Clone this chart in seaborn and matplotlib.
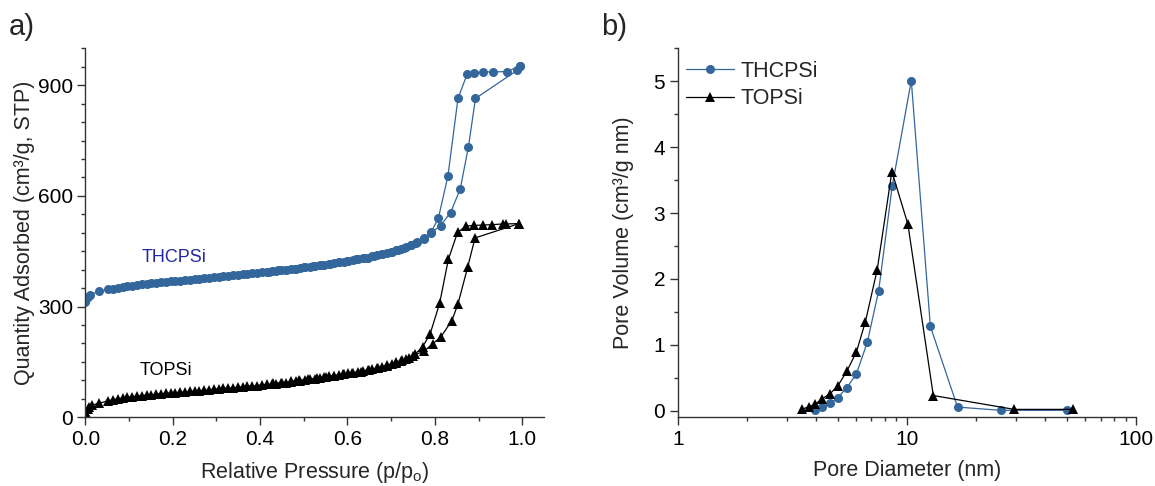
import matplotlib
matplotlib.use("Agg")
import matplotlib.pyplot as plt
import matplotlib.ticker as mticker
import seaborn as sns

# a) N2 isotherms
thc_ads_p = [0.000, 0.002, 0.005, 0.010, 0.031, 0.052, 0.063, 0.074, 0.085, 0.096,
             0.107, 0.118, 0.129, 0.140, 0.151, 0.162, 0.173, 0.184, 0.195, 0.206,
             0.217, 0.228, 0.239, 0.250, 0.261, 0.272, 0.283, 0.294, 0.305, 0.316,
             0.327, 0.338, 0.349, 0.360, 0.371, 0.382, 0.393, 0.404, 0.415, 0.426,
             0.437, 0.448, 0.459, 0.470, 0.481, 0.492, 0.503, 0.514, 0.525, 0.536,
             0.547, 0.558, 0.569, 0.580, 0.591, 0.602, 0.613, 0.624, 0.635, 0.646,
             0.657, 0.668, 0.679, 0.690, 0.701, 0.712, 0.723, 0.734, 0.745, 0.756,
             0.776, 0.791, 0.813, 0.836, 0.858, 0.877, 0.893, 0.988, 0.996]
thc_ads_v = [312, 320, 326, 332, 341, 347, 349, 351, 353, 355,
             357, 358, 360, 361, 363, 364, 366, 367, 368, 369,
             370, 372, 373, 374, 375, 377, 378, 379, 381, 382,
             383, 385, 386, 387, 389, 390, 392, 393, 394, 396,
             397, 399, 400, 402, 403, 405, 407, 408, 410, 412,
             414, 416, 418, 420, 422, 424, 426, 428, 431, 433,
             436, 439, 442, 445, 449, 453, 457, 461, 466, 471,
             484, 500, 519, 555, 618, 733, 864, 940, 952]
thc_des_p = [0.996, 0.965, 0.933, 0.911, 0.890, 0.874, 0.853, 0.830, 0.808, 0.791,
             0.775, 0.760, 0.745, 0.730, 0.715, 0.700, 0.680, 0.660, 0.640, 0.620,
             0.600, 0.580, 0.560, 0.540, 0.520, 0.500, 0.480, 0.460, 0.440, 0.420]
thc_des_v = [952, 937, 936, 936, 934, 930, 864, 654, 539, 501,
             486, 475, 467, 460, 454, 448, 442, 437, 432, 428,
             424, 420, 416, 413, 409, 406, 403, 400, 398, 395]

top_ads_p = [0.000, 0.002, 0.005, 0.009, 0.015, 0.032, 0.052, 0.063, 0.074, 0.085,
             0.096, 0.107, 0.118, 0.129, 0.140, 0.151, 0.162, 0.173, 0.184, 0.195,
             0.206, 0.217, 0.228, 0.239, 0.250, 0.261, 0.272, 0.283, 0.294, 0.305,
             0.316, 0.327, 0.338, 0.349, 0.360, 0.371, 0.382, 0.393, 0.404, 0.415,
             0.426, 0.437, 0.448, 0.459, 0.470, 0.481, 0.492, 0.503, 0.514, 0.525,
             0.536, 0.547, 0.558, 0.569, 0.580, 0.591, 0.602, 0.613, 0.624, 0.635,
             0.646, 0.657, 0.668, 0.679, 0.690, 0.701, 0.712, 0.723, 0.734, 0.749,
             0.776, 0.795, 0.814, 0.839, 0.853, 0.875, 0.892, 0.993]
top_ads_v = [2, 12, 22, 29, 33, 38, 45, 48, 50, 52,
             54, 56, 57, 59, 60, 61, 63, 64, 65, 66,
             67, 68, 69, 70, 71, 72, 73, 75, 76, 77,
             78, 79, 80, 81, 83, 84, 85, 86, 88, 89,
             90, 91, 93, 94, 96, 98, 99, 101, 103, 105,
             107, 109, 111, 113, 115, 117, 119, 121, 123, 126,
             128, 131, 134, 137, 140, 144, 148, 153, 158, 166,
             180, 199, 218, 262, 307, 406, 486, 525]
top_des_p = [0.993, 0.962, 0.955, 0.932, 0.910, 0.890, 0.871, 0.852, 0.831, 0.811,
             0.789, 0.772, 0.755, 0.740, 0.725, 0.710, 0.690, 0.670, 0.650, 0.630,
             0.610, 0.590, 0.570, 0.550, 0.530, 0.510, 0.490, 0.470, 0.450, 0.430]
top_des_v = [525, 524, 524, 522, 521, 520, 518, 501, 428, 309,
             225, 191, 171, 162, 155, 149, 141, 134, 128, 124,
             120, 117, 113, 110, 106, 103, 100, 97, 94, 92]

# b) pore size distribution
thc_d = [3.98, 4.27, 4.63, 5.0, 5.47, 6.02, 6.72, 7.53, 8.63, 10.45, 12.66, 16.63, 25.8, 50.0]
thc_pv = [0.01, 0.05, 0.11, 0.20, 0.35, 0.56, 1.04, 1.82, 3.41, 5.01, 1.28, 0.055, 0.005, 0.005]
top_d = [3.47, 3.73, 3.98, 4.27, 4.63, 5.0, 5.47, 6.02, 6.59, 7.42, 8.6, 10.1, 13.04, 29.4, 53.2]
top_pv = [0.02, 0.06, 0.10, 0.18, 0.26, 0.38, 0.60, 0.89, 1.35, 2.14, 3.63, 2.83, 0.23, 0.02, 0.02]

blue = "#33669a"
label_blue = "#2228a0"

sns.set_theme(style="ticks")
plt.rcParams['font.family'] = ['Liberation Sans', 'DejaVu Sans']
plt.rcParams['axes.linewidth'] = 1.0
plt.rcParams['xtick.major.size'] = 5.5
plt.rcParams['ytick.major.size'] = 5.5
plt.rcParams['xtick.minor.size'] = 3
plt.rcParams['ytick.minor.size'] = 3
plt.rcParams['xtick.color'] = '#333333'
plt.rcParams['ytick.color'] = '#333333'
plt.rcParams['xtick.labelcolor'] = 'black'
plt.rcParams['ytick.labelcolor'] = 'black'
plt.rcParams['axes.edgecolor'] = '#333333'

fig = plt.figure(figsize=(11.55, 4.86), dpi=100)
ax1 = fig.add_axes([0.074, 0.1414, 0.397, 0.7592])
ax2 = fig.add_axes([0.5868, 0.1414, 0.3968, 0.7592])

line_kw = dict(sort=False, estimator=None, linewidth=0.9, markeredgewidth=0)

# a) isotherms
sns.lineplot(x=thc_ads_p, y=thc_ads_v, ax=ax1, color=blue, marker='o', markersize=6.5, **line_kw)
sns.lineplot(x=thc_des_p, y=thc_des_v, ax=ax1, color=blue, marker='o', markersize=6.5, **line_kw)
sns.lineplot(x=top_ads_p, y=top_ads_v, ax=ax1, color='black', marker='^', markersize=7.5, **line_kw)
sns.lineplot(x=top_des_p, y=top_des_v, ax=ax1, color='black', marker='^', markersize=7.5, **line_kw)

ax1.set_xlim(0, 1.05)
ax1.set_ylim(0, 1000)
ax1.xaxis.set_major_locator(mticker.FixedLocator([0.0, 0.2, 0.4, 0.6, 0.8, 1.0]))
ax1.xaxis.set_major_formatter(mticker.FormatStrFormatter('%.1f'))
ax1.xaxis.set_minor_locator(mticker.MultipleLocator(0.1))
ax1.yaxis.set_major_locator(mticker.FixedLocator([0, 300, 600, 900]))
ax1.yaxis.set_minor_locator(mticker.MultipleLocator(50))
ax1.set_xlabel('Relative Pressure (p/p$_\\mathregular{o}$)', fontsize=15.5, labelpad=8)
ax1.set_ylabel('Quantity Adsorbed (cm³/g, STP)', fontsize=15.5, labelpad=2)
ax1.text(0.129, 434, 'THCPSi', color=label_blue, fontsize=13, va='center')
ax1.text(0.125, 128, 'TOPSi', color='black', fontsize=13, va='center')

# b) pore size distribution
sns.lineplot(x=thc_d, y=thc_pv, ax=ax2, color=blue, marker='o', markersize=6.5,
             label='THCPSi', **line_kw)
sns.lineplot(x=top_d, y=top_pv, ax=ax2, color='black', marker='^', markersize=7,
             label='TOPSi', **line_kw)
ax2.set_xscale('log')
ax2.set_xlim(1, 100)
ax2.set_ylim(-0.1, 5.5)
ax2.xaxis.set_major_locator(mticker.FixedLocator([1, 10, 100]))
ax2.xaxis.set_major_formatter(mticker.FixedFormatter(['1', '10', '100']))
ax2.xaxis.set_minor_locator(mticker.LogLocator(base=10, subs=range(2, 10)))
ax2.xaxis.set_minor_formatter(mticker.NullFormatter())
ax2.yaxis.set_major_locator(mticker.MultipleLocator(1))
ax2.yaxis.set_minor_locator(mticker.MultipleLocator(0.5))
ax2.set_xlabel('Pore Diameter (nm)', fontsize=15.5, labelpad=8)
ax2.set_ylabel('Pore Volume (cm³/g nm)', fontsize=15.5, labelpad=14)
ax2.legend(loc='upper left', frameon=False, fontsize=15.5, handlelength=2.2,
           handletextpad=0.3, labelspacing=0.3, borderaxespad=0.0,
           bbox_to_anchor=(0.0, 0.99))

for ax in (ax1, ax2):
    sns.despine(ax=ax)
    ax.tick_params(axis='both', which='major', labelsize=15, width=1.0)
    ax.tick_params(axis='both', which='minor', width=1.0)

fig.text(0.008, 0.945, 'a)', fontsize=21, va='center')
fig.text(0.520, 0.945, 'b)', fontsize=21, va='center')

fig.savefig('out.png', dpi=100)
